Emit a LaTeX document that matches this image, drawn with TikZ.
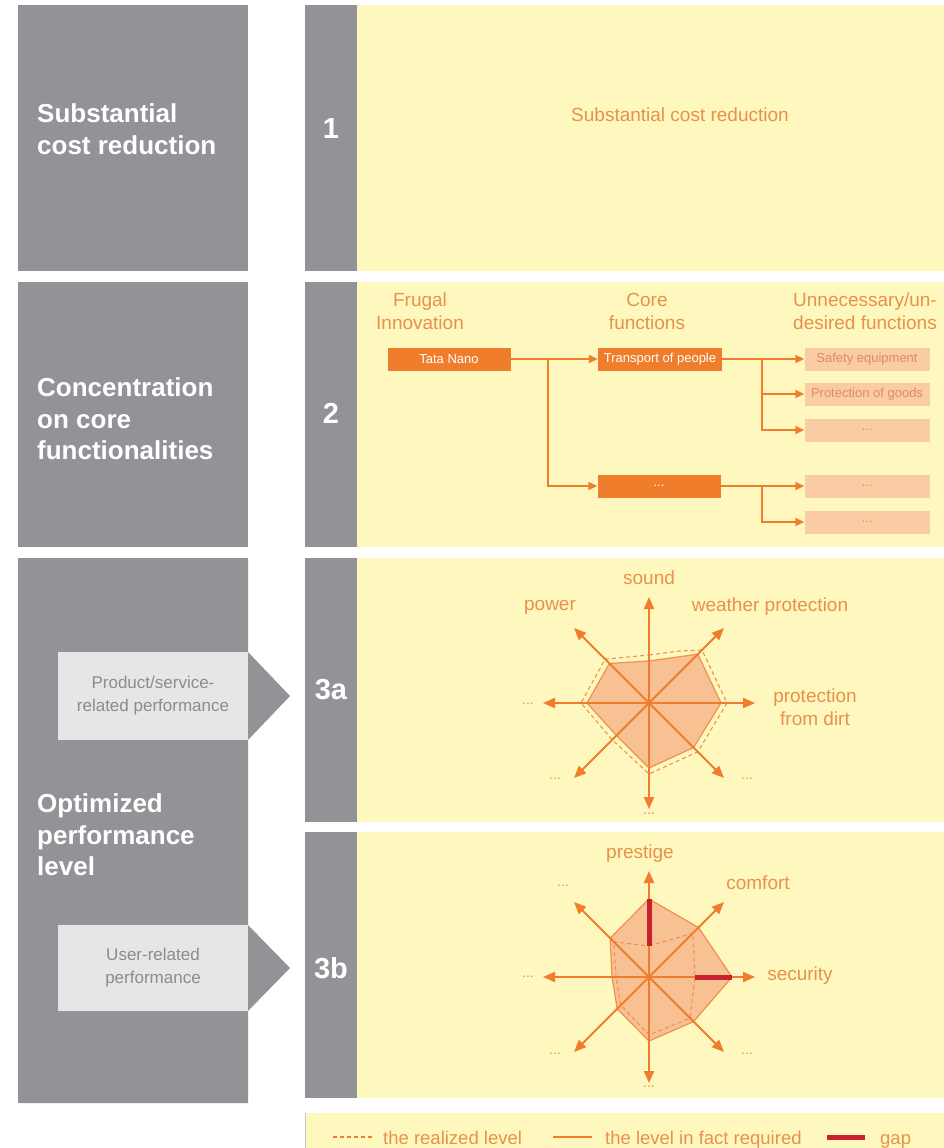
\documentclass[tikz,border=0pt]{standalone}
\usepackage{fontspec}
\setmainfont{Liberation Sans}
\usetikzlibrary{arrows.meta}
\definecolor{gbox}{HTML}{929396}
\definecolor{lgbox}{HTML}{E6E6E6}
\definecolor{lgtext}{HTML}{8C8C8C}
\definecolor{ylw}{HTML}{FFF8BE}
\definecolor{org}{HTML}{EF7D2C}
\definecolor{otext}{HTML}{E8914A}
\definecolor{salmon}{HTML}{F9CCA4}
\definecolor{stext}{HTML}{E08C5C}
\definecolor{rfill}{HTML}{F7B88C}
\definecolor{gapred}{HTML}{C8202F}
\tikzset{
  gpanel/.style={fill=gbox, draw=none},
  ypanel/.style={fill=ylw, draw=none},
  lefttitle/.style={text=white, font=\fontsize{26}{31.5}\selectfont\bfseries, align=left, anchor=west, inner sep=0pt},
  numtxt/.style={text=white, font=\fontsize{29}{32}\selectfont\bfseries, inner sep=0pt},
  tabbox/.style={fill=lgbox, draw=none, text=lgtext, font=\fontsize{17}{23}\selectfont, align=center, minimum width=190pt, minimum height=88pt, inner sep=0pt},
  otxt/.style={text=otext, font=\fontsize{19}{23}\selectfont, align=center, inner sep=0pt},
  lgtxt/.style={text=otext, font=\fontsize{18.5}{22}\selectfont, anchor=base west, inner sep=0pt},
  obox/.style={fill=org, draw=none, text=white, font=\fontsize{13}{15}\selectfont, minimum width=123pt, minimum height=23pt, inner sep=0pt},
  sbox/.style={fill=salmon, draw=none, text=stext, font=\fontsize{13}{15}\selectfont, minimum width=125pt, minimum height=23pt, inner sep=0pt},
  conn/.style={draw=org, line width=1.8pt},
  arr/.style={conn, -{Triangle[length=9pt,width=8pt]}},
  axis/.style={draw=org, line width=2pt, -{Triangle[length=12pt,width=10pt]}},
  req/.style={draw=org!85!white, line width=1.2pt, fill=rfill, fill opacity=0.85},
  real/.style={draw=org!85!white, line width=1.1pt, dash pattern=on 4pt off 3pt},
  gapbar/.style={draw=gapred, line width=5pt},
  dots/.style={text=otext, font=\fontsize{14}{16}\selectfont, inner sep=0pt},
}
\begin{document}
\begin{tikzpicture}[x=1pt,y=-1pt]
\useasboundingbox (0,0) rectangle (944,1148);
\fill[white] (0,0) rectangle (944,1148);
% ---------- left grey column ----------
\path[gpanel] (18,5) rectangle (248,271);
\path[gpanel] (18,282) rectangle (248,547);
\path[gpanel] (18,558) -- (248,558) -- (248,652) -- (290,696) -- (248,740) -- (248,925) -- (290,968) -- (248,1011) -- (248,1103) -- (18,1103) -- cycle;
\node[lefttitle] (t1) at (37,129) {Substantial\\cost reduction};
\node[lefttitle] (t2) at (37,419) {Concentration\\on core\\functionalities};
\node[lefttitle] (t3) at (37,835) {Optimized\\performance\\level};
\node[tabbox] (tab1) at (153,696) {Product/service-\\related performance};
\node[tabbox, minimum height=86pt] (tab2) at (153,968) {User-related\\performance};
% ---------- number column + yellow panels ----------
\path[gpanel] (305,5) rectangle (357,271);
\path[ypanel] (357,5) rectangle (944,271);
\path[gpanel] (305,282) rectangle (357,547);
\path[ypanel] (357,282) rectangle (944,547);
\path[gpanel] (305,558) rectangle (357,822);
\path[ypanel] (357,558) rectangle (944,822);
\path[gpanel] (305,832) rectangle (357,1098);
\path[ypanel] (357,832) rectangle (944,1098);
\node[numtxt] (n1) at (331,129) {1};
\node[numtxt] (n2) at (331,413) {2};
\node[numtxt] (n3a) at (331,690) {3a};
\node[numtxt] (n3b) at (331,968) {3b};
% ---------- row 1 ----------
\node[otxt] (r1) at (680,115) {Substantial cost reduction};
% ---------- row 2 ----------
\node[otxt] (h1) at (420,311) {Frugal\\Innovation};
\node[otxt] (h2) at (647,311) {Core\\functions};
\node[otxt] (h3) at (865,311) {Unnecessary/un-\\desired functions};
\node[obox] (tata) at (449,359) {Tata Nano};
\node[obox, minimum width=124pt] (core1) at (660,359) {Transport of people};
\node[obox] (core2) at (659,486) {...};
\node[sbox] (u1) at (867,359) {Safety equipment};
\node[sbox] (u2) at (867,394) {Protection of goods};
\node[sbox] (u3) at (867,430) {...};
\node[sbox] (u4) at (867,486) {...};
\node[sbox] (u5) at (867,522) {...};
\coordinate (b1) at (548,359);
\coordinate (b2) at (762,359);
\coordinate (b3) at (762,486);
\draw[arr] (tata.east) -- (core1.west);
\draw[arr] (b1) |- (core2.west);
\draw[arr] (core1.east) -- (u1.west);
\draw[arr] (b2) |- (u2.west);
\draw[arr] (b2) |- (u3.west);
\draw[arr] (core2.east) -- (u4.west);
\draw[arr] (b3) |- (u5.west);
% ---------- row 3a radar ----------
\begin{scope}[shift={(649,703)}]
\coordinate (ca) at (0,0);
\path[req] (-90:42) -- (-45:69) -- (0:72) -- (45:63) -- (90:65) -- (135:46) -- (180:62) -- (225:56) -- cycle;
\draw[real] (-90:48) -- (-60:60) -- (-45:75) -- (0:78) -- (45:69) -- (90:71) -- (135:52) -- (180:68) -- (225:62) -- cycle;
\foreach \a/\n in {-90/aN,-45/aNE,0/aE,45/aSE,90/aS,135/aSW,180/aW,225/aNW}{
  \coordinate (\n) at (\a:106);
  \draw[axis] (ca) -- (\n);
}
\end{scope}
\node[otxt] (l3a1) at (649,578) {sound};
\node[otxt] (l3a2) at (550,607) {power};
\node[otxt] (l3a3) at (770,607) {weather protection};
\node[otxt] (l3a4) at (815,707) {protection\\from dirt};
\node[dots] (d3a1) at (528,704) {...};
\node[dots] (d3a2) at (555,779) {...};
\node[dots] (d3a3) at (747,779) {...};
\node[dots] (d3a4) at (649,814) {...};
% ---------- row 3b radar ----------
\begin{scope}[shift={(649,977)}]
\coordinate (cb) at (0,0);
\path[req] (-90:78) -- (-45:70) -- (0:83) -- (45:63) -- (90:64) -- (135:45) -- (180:37) -- (225:55) -- cycle;
\draw[real] (-90:31) -- (-45:62) -- (0:46) -- (45:58) -- (90:58) -- (135:40) -- (180:33) -- (225:50) -- cycle;
\foreach \a/\n in {-90/bN,-45/bNE,0/bE,45/bSE,90/bS,135/bSW,180/bW,225/bNW}{
  \coordinate (\n) at (\a:106);
  \draw[axis] (cb) -- (\n);
}
\coordinate (gN1) at (-90:31);
\coordinate (gN2) at (-90:78);
\coordinate (gE1) at (0:46);
\coordinate (gE2) at (0:83);
\draw[gapbar] (gN1) -- (gN2);
\draw[gapbar] (gE1) -- (gE2);
\end{scope}
\node[otxt] (l3b1) at (640,854) {prestige};
\node[otxt] (l3b2) at (758,883) {comfort};
\node[otxt] (l3b3) at (800,976) {security};
\node[dots] (d3b0) at (563,886) {...};
\node[dots] (d3b1) at (528,977) {...};
\node[dots] (d3b2) at (555,1054) {...};
\node[dots] (d3b3) at (747,1054) {...};
\node[dots] (d3b4) at (649,1087) {...};
% ---------- legend ----------
\path[ypanel] (305,1113) rectangle (944,1148);
\draw[lgbox!70!gray, line width=0.8pt] (305.4,1113) -- (305.4,1148);
\coordinate (lg1a) at (333,1137);
\coordinate (lg1b) at (372,1137);
\coordinate (lg2a) at (553,1137);
\coordinate (lg2b) at (592,1137);
\coordinate (lg3a) at (827,1137);
\coordinate (lg3b) at (865,1137);
\draw[draw=org, line width=1.4pt, dash pattern=on 4pt off 3pt] (lg1a) -- (lg1b);
\draw[draw=org, line width=1.6pt] (lg2a) -- (lg2b);
\draw[gapred, line width=5pt] (lg3a) -- (lg3b);
\node[lgtxt] (lgt1) at (383,1144) {the realized level};
\node[lgtxt] (lgt2) at (605,1144) {the level in fact required};
\node[lgtxt] (lgt3) at (880,1144) {gap};
\end{tikzpicture}
\end{document}
